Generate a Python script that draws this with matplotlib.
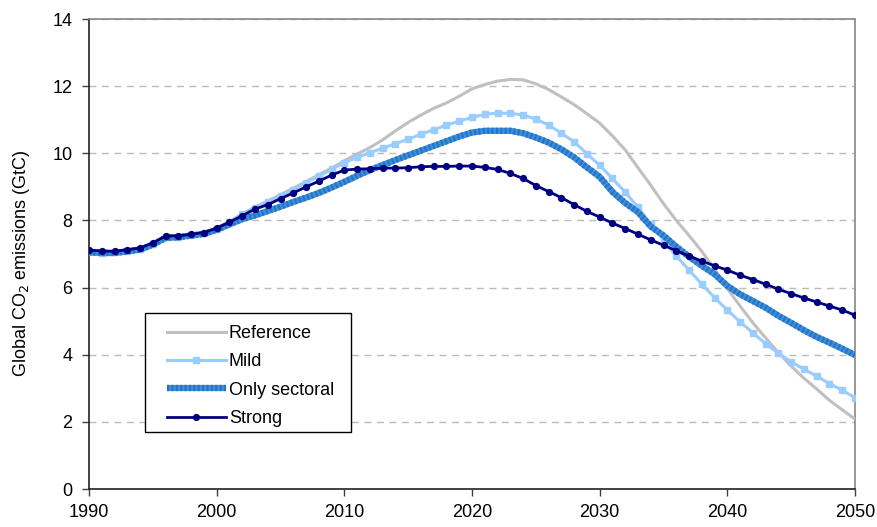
import numpy as np
import matplotlib.pyplot as plt
from matplotlib.patches import Rectangle
from matplotlib.legend_handler import HandlerTuple

plt.rcParams['font.family'] = ['Liberation Sans', 'DejaVu Sans']

years = np.arange(1990, 2051)

reference = [7.05, 7.03, 7.05, 7.10, 7.15, 7.30, 7.50, 7.52, 7.57, 7.63,
             7.78, 7.97, 8.20, 8.40, 8.58, 8.77, 8.96, 9.16, 9.36, 9.56,
             9.78, 9.98, 10.17, 10.40, 10.67, 10.92, 11.14, 11.34, 11.50, 11.70,
             11.92, 12.05, 12.15, 12.20, 12.19, 12.07, 11.90, 11.68, 11.45, 11.18,
             10.90, 10.52, 10.10, 9.57, 9.05, 8.50, 8.00, 7.55, 7.08, 6.55,
             5.97, 5.45, 4.95, 4.50, 4.06, 3.66, 3.30, 2.98, 2.64, 2.36, 2.08]

mild = [7.05, 7.03, 7.05, 7.10, 7.15, 7.30, 7.50, 7.52, 7.57, 7.62,
        7.75, 7.95, 8.18, 8.38, 8.55, 8.73, 8.92, 9.12, 9.32, 9.52,
        9.72, 9.88, 10.02, 10.15, 10.29, 10.42, 10.57, 10.70, 10.84, 10.96,
        11.07, 11.16, 11.20, 11.19, 11.14, 11.02, 10.84, 10.60, 10.34, 9.99,
        9.64, 9.25, 8.84, 8.39, 7.88, 7.42, 6.94, 6.52, 6.10, 5.70,
        5.33, 4.98, 4.65, 4.33, 4.04, 3.79, 3.57, 3.36, 3.14, 2.94, 2.72]

sectoral = [7.05, 7.03, 7.03, 7.08, 7.13, 7.28, 7.48, 7.50, 7.55, 7.60,
            7.72, 7.88, 8.04, 8.15, 8.28, 8.41, 8.55, 8.68, 8.82, 8.98,
            9.15, 9.33, 9.50, 9.65, 9.80, 9.94, 10.08, 10.22, 10.36, 10.50,
            10.62, 10.67, 10.67, 10.67, 10.60, 10.47, 10.32, 10.12, 9.88, 9.58,
            9.30, 8.85, 8.52, 8.25, 7.82, 7.55, 7.22, 6.92, 6.65, 6.40,
            6.05, 5.80, 5.60, 5.40, 5.16, 4.95, 4.73, 4.53, 4.36, 4.18, 3.99]

strong = [7.12, 7.09, 7.08, 7.13, 7.18, 7.33, 7.54, 7.54, 7.59, 7.64,
          7.77, 7.95, 8.14, 8.34, 8.47, 8.65, 8.82, 9.00, 9.17, 9.35,
          9.50, 9.53, 9.54, 9.56, 9.56, 9.57, 9.60, 9.61, 9.61, 9.62,
          9.62, 9.58, 9.52, 9.40, 9.25, 9.04, 8.86, 8.68, 8.47, 8.27,
          8.10, 7.92, 7.76, 7.59, 7.42, 7.26, 7.10, 6.94, 6.79, 6.65,
          6.52, 6.37, 6.24, 6.10, 5.95, 5.82, 5.69, 5.57, 5.45, 5.33, 5.18]

fig = plt.figure(figsize=(8.78, 5.27), dpi=100)
ax = fig.add_axes([0.1014, 0.0721, 0.8724, 0.8918])

ax.set_axisbelow(True)
ax.yaxis.grid(True, color='#BBBBBB', linestyle=(0, (5, 4)), lw=1)

l_ref, = ax.plot(years, reference, color='#C0C0C0', lw=2.2, zorder=3)
l_mild, = ax.plot(years, mild, color='#99CCFF', lw=2.2, marker='s', ms=4.5,
                  mec='#99CCFF', zorder=4)
l_sec1, = ax.plot(years, sectoral, color='#3D8FDB', lw=4.5, zorder=5,
                  solid_capstyle='butt')
l_sec2, = ax.plot(years, sectoral, color='#2774C6', lw=4.5, zorder=5,
                  linestyle=(0, (0.35, 0.35)), dash_capstyle='butt')
l_str, = ax.plot(years, strong, color='#000080', lw=2, marker='o', ms=4.2,
                 zorder=6)

ax.set_xlim(1990, 2050)
ax.set_ylim(0, 14)
ax.set_xticks(range(1990, 2051, 10))
ax.set_yticks(range(0, 15, 2))
ax.tick_params(axis='both', labelsize=13, length=5, width=1, color='#404040')
ax.tick_params(axis='y', pad=7)
ax.tick_params(axis='x', pad=6)

for side in ['left', 'bottom']:
    ax.spines[side].set_color('#222222')
    ax.spines[side].set_linewidth(1.2)
for side in ['top', 'right']:
    ax.spines[side].set_color('#888888')
    ax.spines[side].set_linewidth(1.2)

ax.set_ylabel('Global CO$_2$ emissions (GtC)', fontsize=13)
ax.yaxis.set_label_coords(-0.074, 0.48)

# legend box drawn by hand so the padding matches the original
ax.add_patch(Rectangle((0.0731, 0.1213), 0.2689, 0.2532, transform=ax.transAxes,
                       facecolor='white', edgecolor='black', lw=1, zorder=9))
leg = ax.legend([l_ref, l_mild, (l_sec1, l_sec2), l_str],
                ['Reference', 'Mild', 'Only sectoral', 'Strong'],
                handler_map={tuple: HandlerTuple(ndivide=1, pad=0)},
                loc='upper left', bbox_to_anchor=(0.1018, 0.349),
                fontsize=13, handlelength=3.25, handletextpad=0.17,
                labelspacing=0.63, borderpad=0, borderaxespad=0,
                frameon=False)
leg.set_zorder(10)

fig.savefig('out.png', dpi=100)
